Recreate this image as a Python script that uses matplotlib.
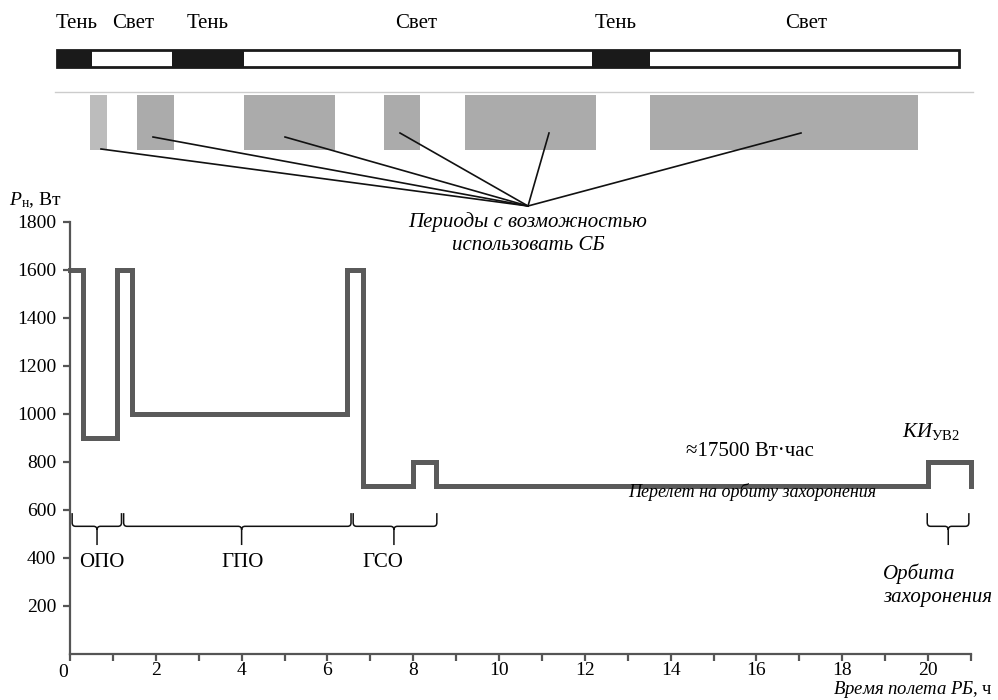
import matplotlib
matplotlib.use("Agg")
import matplotlib.pyplot as plt
from matplotlib.path import Path
from matplotlib.patches import PathPatch, Rectangle

plt.rcParams['font.family'] = ['Liberation Serif', 'DejaVu Serif']
plt.rcParams['mathtext.fontset'] = 'custom'
plt.rcParams['mathtext.rm'] = 'Liberation Serif'
plt.rcParams['mathtext.it'] = 'Liberation Serif:italic'

# load profile (step line): time, h -> power, W
t_steps = [0, 0.3, 1.1, 1.45, 6.45, 6.83, 8.0, 8.52, 20.0, 21.0, 21.0]
p_steps = [1600, 900, 1600, 1000, 1600, 700, 800, 700, 800, 800, 700]

# braces under the profile: (start, end, tip) in hours + labels
brace_spans = [(0.05, 1.2, 0.63), (1.25, 6.55, 4.0), (6.6, 8.55, 7.55), (19.98, 20.95, 20.47)]
phase_labels = ["ОПО", "ГПО", "ГСО"]
phase_label_x = [0.75, 4.03, 7.3]

# top scheme (scheme units, left->right)
bar_span = (57, 959)
shadow_segs = [(57, 92), (172, 244), (592, 650)]
top_labels = ["Тень", "Свет", "Тень", "Свет", "Тень", "Свет"]
top_label_x = [77, 133, 208, 416, 616, 806]
sb_periods = [(90, 107), (137, 174), (244, 335), (384, 420), (465, 596), (650, 918)]
sb_pointers = [(101, 149), (153, 137), (285, 137), (400, 133), (549, 133), (801, 133)]
sb_focus = (528, 206)

fig = plt.figure(figsize=(9.98, 7.0), dpi=100)

# ---- scheme on top
sc = fig.add_axes([0, 0, 1, 1])
sc.set_xlim(0, 998)
sc.set_ylim(700, 0)
sc.axis('off')

sc.add_patch(Rectangle((bar_span[0], 50), bar_span[1] - bar_span[0], 17,
                       facecolor='white', edgecolor='#1a1a1a', lw=2))
for a, b in shadow_segs:
    sc.add_patch(Rectangle((a, 50), b - a, 17, facecolor='#1a1a1a', edgecolor='none'))
for lab, x in zip(top_labels, top_label_x):
    sc.text(x, 24, lab, ha='center', va='center', fontsize=15)

sc.plot([55, 973], [92, 92], color='#cccccc', lw=1)
for i, (a, b) in enumerate(sb_periods):
    col = '#bcbcbc' if i == 0 else '#ababab'
    sc.add_patch(Rectangle((a, 95), b - a, 55, facecolor=col, edgecolor='none'))
for x, y in sb_pointers:
    sc.plot([x, sb_focus[0]], [y, sb_focus[1]], color='#111111', lw=1.2)
sc.text(sb_focus[0], 222, "Периоды с возможностью", ha='center', va='center',
        fontsize=15, style='italic')
sc.text(sb_focus[0], 245, "использовать СБ", ha='center', va='center',
        fontsize=15, style='italic')

# ---- main chart
ax = fig.add_axes([70 / 998, 1 - 654 / 700, 901 / 998, 432 / 700])
ax.patch.set_alpha(0)
ax.plot(t_steps, p_steps, drawstyle='steps-post', color='#5a5a5a', lw=3.6,
        solid_joinstyle='miter', clip_on=False)
ax.set_xlim(0, 21)
ax.set_ylim(0, 1800)
for s in ['top', 'right']:
    ax.spines[s].set_visible(False)
for s in ['left', 'bottom']:
    ax.spines[s].set_color('#555555')
    ax.spines[s].set_linewidth(1.6)

ax.set_xticks(range(0, 21, 2))
ax.set_xticklabels([''] + [str(v) for v in range(2, 21, 2)])
ax.set_xticks(range(1, 22, 2), minor=True)
ax.set_yticks(range(200, 1801, 200))
ax.tick_params(axis='both', which='both', direction='out', length=5, width=1.6,
               color='#555555', labelsize=14)
ax.tick_params(axis='x', pad=1)
ax.tick_params(axis='y', pad=5)
ax.text(-0.17, -40, "0", ha='center', va='top', fontsize=14)

ax.text(-0.2, 1890, r"$P_{\mathrm{н}}$, Вт", ha='right', va='center', fontsize=14)
ax.text(21.5, -150, r"$\mathit{Время\ полета\ РБ}$, ч", ha='right', va='center',
        fontsize=13.5)

# braces
for a, b, m in brace_spans:
    top, mid, tip, r = 587, 532, 454, 0.08
    verts = [(a, top), (a, mid + 15), (a, mid), (a + r, mid),
             (m - r, mid), (m, mid), (m, mid - 15), (m, tip),
             (m, mid - 15), (m, mid), (m + r, mid),
             (b - r, mid), (b, mid), (b, mid + 15), (b, top)]
    codes = [Path.MOVETO, Path.LINETO, Path.CURVE3, Path.CURVE3,
             Path.LINETO, Path.CURVE3, Path.CURVE3, Path.LINETO,
             Path.MOVETO, Path.CURVE3, Path.CURVE3,
             Path.LINETO, Path.CURVE3, Path.CURVE3, Path.LINETO]
    ax.add_patch(PathPatch(Path(verts, codes), facecolor='none', edgecolor='#111111',
                           lw=1.1, clip_on=False))

for lab, x in zip(phase_labels, phase_label_x):
    ax.text(x, 380, lab, ha='center', va='center', fontsize=15)

ax.text(15.85, 842, "≈17500 Вт·час", ha='center', va='center', fontsize=15)
ax.text(15.9, 675, "Перелет на орбиту захоронения", ha='center', va='center',
        fontsize=13, style='italic')
ax.text(19.4, 925, r"$\mathit{КИ}_{\mathrm{УВ2}}$", ha='left', va='center', fontsize=15)
ax.text(18.95, 287, "Орбита\nзахоронения", ha='left', va='center', fontsize=15,
        style='italic', linespacing=1.3)

fig.savefig("out.png", dpi=100)
